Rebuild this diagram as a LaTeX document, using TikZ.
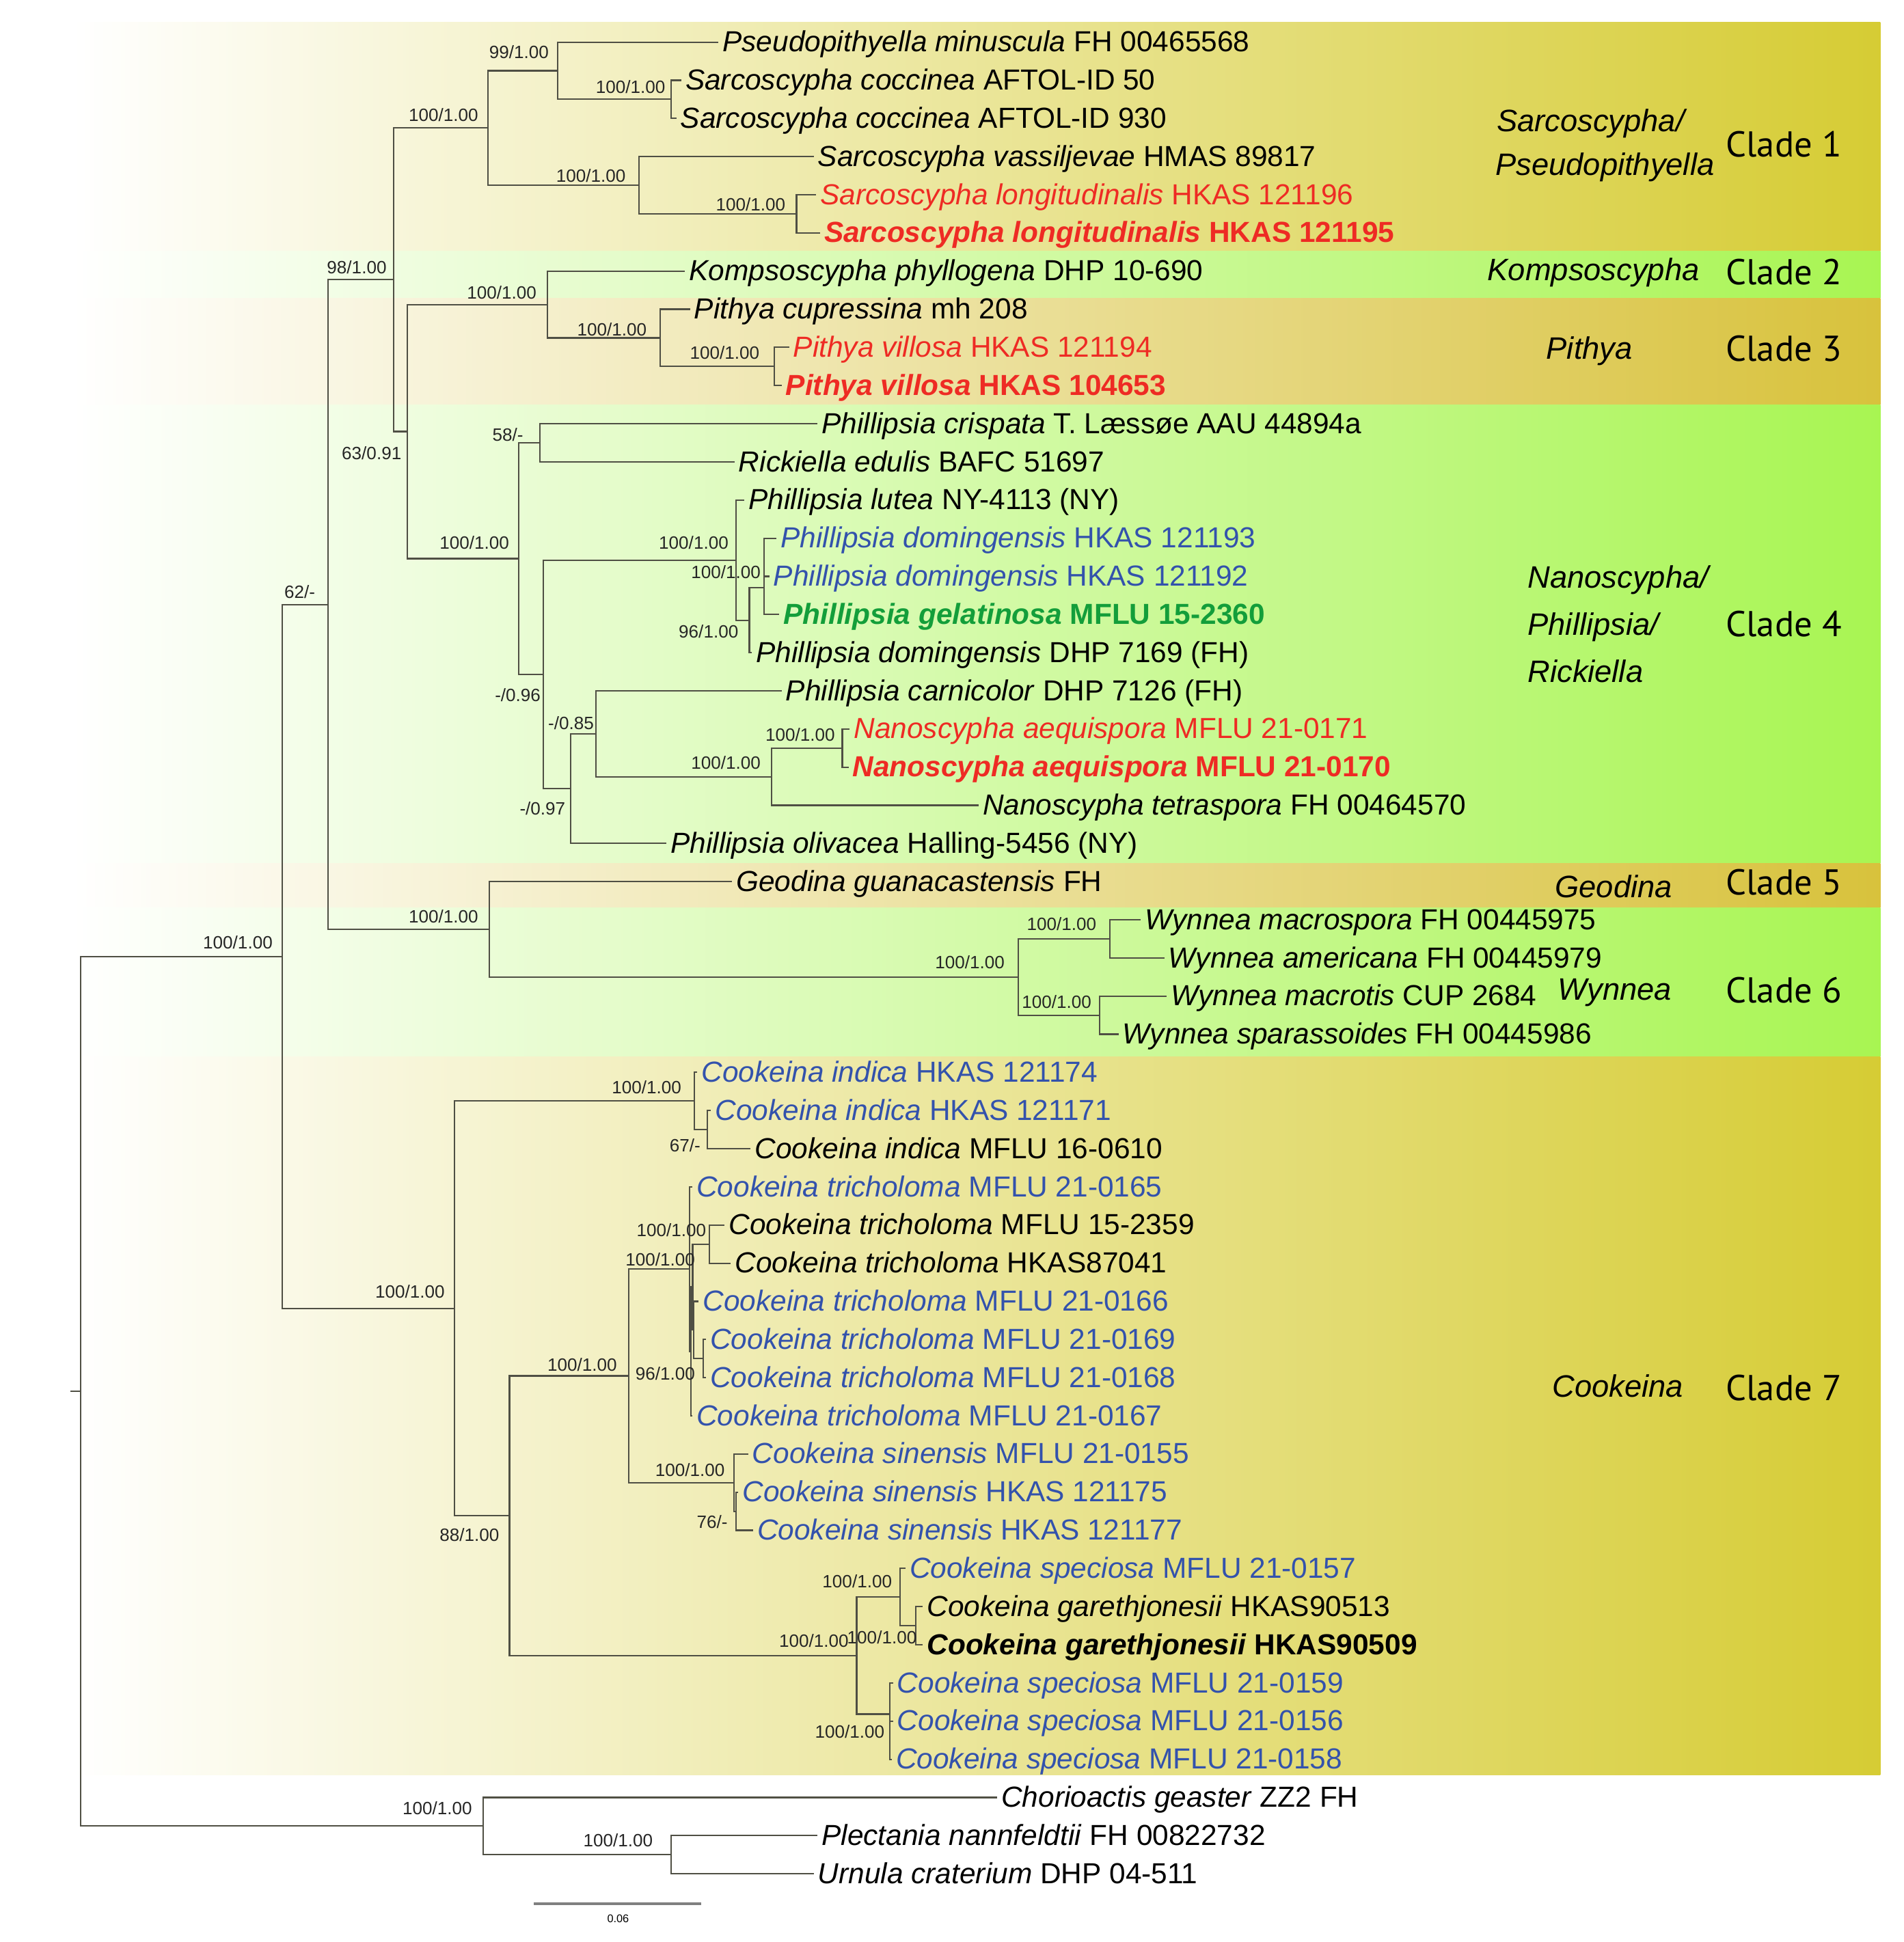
\documentclass[tikz,border=0pt]{standalone}
\usepackage{fontspec}
\setmainfont{Liberation Sans}
\newfontfamily\cladefont{PT Sans}
\usepackage{xcolor}
\usepackage{tikz}

\definecolor{olivebar}{HTML}{D6CC34}
\definecolor{tanbar}{HTML}{D8C23C}
\definecolor{greenbar}{HTML}{A8F552}
\definecolor{newred}{HTML}{EE2B24}
\definecolor{newblue}{HTML}{3352AC}
\definecolor{newgreen}{HTML}{139E3A}
\definecolor{branchgray}{HTML}{4F4F44}

\newcommand{\tipsize}{\fontsize{11.7}{14}\selectfont}

\tikzset{
  branch/.style={draw=branchgray, line width=0.6pt},
  taxon/.style={anchor=base west, inner sep=0pt, xshift=1.5pt, yshift=-3.9pt, font=\tipsize},
  taxred/.style={taxon, text=newred},
  taxredb/.style={taxon, text=newred, font=\tipsize\bfseries},
  taxblue/.style={taxon, text=newblue},
  taxgreenb/.style={taxon, text=newgreen, font=\tipsize\bfseries},
  taxblackb/.style={taxon, font=\tipsize\bfseries},
  support/.style={inner sep=0pt, font=\fontsize{7.2}{8}\selectfont, text=black!85},
  genus/.style={anchor=base west, inner sep=0pt, font=\fontsize{12.5}{15}\selectfont\itshape},
  clade/.style={anchor=base west, inner sep=0pt, font=\cladefont\fontsize{14.5}{17}\selectfont},
}

\begin{document}
\begin{tikzpicture}[x=0.5pt, y=-0.5pt]
	\useasboundingbox (0,0) rectangle (1537,1568);

	% clade bands
	\shade[left color=white, right color=olivebar] (58,18) rectangle (1518,202.5);
	\shade[left color=white, right color=greenbar] (58,202.5) rectangle (1518,241);
	\shade[left color=white, right color=tanbar] (58,241) rectangle (1518,327);
	\shade[left color=white, right color=greenbar] (58,327) rectangle (1518,697);
	\shade[left color=white, right color=tanbar] (58,697) rectangle (1518,733);
	\shade[left color=white, right color=greenbar] (58,733) rectangle (1518,853);
	\shade[left color=white, right color=olivebar] (58,853) rectangle (1518,1433);

	% tips
	\foreach \r/\x/\s/\t in {
		1/580/taxon/{\textit{Pseudopithyella minuscula} FH 00465568},
		2/550/taxon/{\textit{Sarcoscypha coccinea} AFTOL-ID 50},
		3/546/taxon/{\textit{Sarcoscypha coccinea} AFTOL-ID 930},
		4/657/taxon/{\textit{Sarcoscypha vassiljevae} HMAS 89817},
		5/659/taxred/{\textit{Sarcoscypha longitudinalis} HKAS 121196},
		6/662/taxredb/{\textit{Sarcoscypha longitudinalis} HKAS 121195},
		7/553/taxon/{\textit{Kompsoscypha phyllogena} DHP 10-690},
		8/557/taxon/{\textit{Pithya cupressina} mh 208},
		9/637/taxred/{\textit{Pithya villosa} HKAS 121194},
		10/631/taxredb/{\textit{Pithya villosa} HKAS 104653},
		11/660/taxon/{\textit{Phillipsia crispata} T. Læssøe AAU 44894a},
		12/593/taxon/{\textit{Rickiella edulis} BAFC 51697},
		13/601/taxon/{\textit{Phillipsia lutea} NY-4113 (NY)},
		14/627/taxblue/{\textit{Phillipsia domingensis} HKAS 121193},
		15/621/taxblue/{\textit{Phillipsia domingensis} HKAS 121192},
		16/629/taxgreenb/{\textit{Phillipsia gelatinosa} MFLU 15-2360},
		17/607/taxon/{\textit{Phillipsia domingensis} DHP 7169 (FH)},
		18/631/taxon/{\textit{Phillipsia carnicolor} DHP 7126 (FH)},
		19/686/taxred/{\textit{Nanoscypha aequispora} MFLU 21-0171},
		20/685/taxredb/{\textit{Nanoscypha aequispora} MFLU 21-0170},
		21/790/taxon/{\textit{Nanoscypha tetraspora} FH 00464570},
		22/538/taxon/{\textit{Phillipsia olivacea} Halling-5456 (NY)},
		23/591/taxon/{\textit{Geodina guanacastensis} FH},
		24/921/taxon/{\textit{Wynnea macrospora} FH 00445975},
		25/940/taxon/{\textit{Wynnea americana} FH 00445979},
		26/942/taxon/{\textit{Wynnea macrotis} CUP 2684},
		27/903/taxon/{\textit{Wynnea sparassoides} FH 00445986},
		28/563/taxblue/{\textit{Cookeina indica} HKAS 121174},
		29/574/taxblue/{\textit{Cookeina indica} HKAS 121171},
		30/606/taxon/{\textit{Cookeina indica} MFLU 16-0610},
		31/559/taxblue/{\textit{Cookeina tricholoma} MFLU 21-0165},
		32/585/taxon/{\textit{Cookeina tricholoma} MFLU 15-2359},
		33/590/taxon/{\textit{Cookeina tricholoma} HKAS87041},
		34/564/taxblue/{\textit{Cookeina tricholoma} MFLU 21-0166},
		35/570/taxblue/{\textit{Cookeina tricholoma} MFLU 21-0169},
		36/570/taxblue/{\textit{Cookeina tricholoma} MFLU 21-0168},
		37/559/taxblue/{\textit{Cookeina tricholoma} MFLU 21-0167},
		38/604/taxblue/{\textit{Cookeina sinensis} MFLU 21-0155},
		39/596/taxblue/{\textit{Cookeina sinensis} HKAS 121175},
		40/608/taxblue/{\textit{Cookeina sinensis} HKAS 121177},
		41/731/taxblue/{\textit{Cookeina speciosa} MFLU 21-0157},
		42/745/taxon/{\textit{Cookeina garethjonesii} HKAS90513},
		43/745/taxblackb/{\textit{Cookeina garethjonesii} HKAS90509},
		44/721/taxblue/{\textit{Cookeina speciosa} MFLU 21-0159},
		45/721/taxblue/{\textit{Cookeina speciosa} MFLU 21-0156},
		46/720/taxblue/{\textit{Cookeina speciosa} MFLU 21-0158},
		47/805/taxon/{\textit{Chorioactis geaster} ZZ2 FH},
		48/660/taxon/{\textit{Plectania nannfeldtii} FH 00822732},
		49/657/taxon/{\textit{Urnula craterium} DHP 04-511}}
	{
		\coordinate (t\r) at (\x, {34+30.81*(\r-1)});
		\node[\s] (n\r) at (t\r) {\t};
	}

	% internal nodes
	\coordinate (SC) at (542,80.2);
	\coordinate (S99) at (450,57.1);
	\coordinate (SL) at (643,172.65);
	\coordinate (SV) at (516,149.5);
	\coordinate (S1) at (394,103.3);
	\coordinate (PV) at (625,295.9);
	\coordinate (PC) at (533,272.8);
	\coordinate (KP) at (442,245.85);
	\coordinate (CR) at (436,357.5);
	\coordinate (J) at (617,474.5);
	\coordinate (I) at (605,500.75);
	\coordinate (H) at (594,452.2);
	\coordinate (N) at (680,604);
	\coordinate (M) at (623,627.1);
	\coordinate (L) at (481,592.45);
	\coordinate (G) at (460.6,636.7);
	\coordinate (F) at (438.4,544.45);
	\coordinate (E) at (418.7,451);
	\coordinate (B) at (329,348.4);
	\coordinate (A) at (318,225.85);
	\coordinate (Q) at (896,758);
	\coordinate (R) at (887.6,819.7);
	\coordinate (P) at (822,788.85);
	\coordinate (GW) at (395,750.3);
	\coordinate (C) at (265,488.1);
	\coordinate (T) at (571.2,912.1);
	\coordinate (SI) at (560.4,889);
	\coordinate (V) at (572.6,1004.5);
	\coordinate (W) at (567.8,1097);
	\coordinate (Y) at (560.2,1073.85);
	\coordinate (X) at (559.2,1039.2);
	\coordinate (Z) at (557.6,1091.2);
	\coordinate (U) at (556.8,1024.75);
	\coordinate (EE) at (594,1220.2);
	\coordinate (DD) at (592.6,1197.1);
	\coordinate (CC) at (507.4,1110.9);
	\coordinate (HH) at (739.3,1312.6);
	\coordinate (GG) at (726.8,1289.5);
	\coordinate (II) at (718.5,1384);
	\coordinate (FF) at (691.6,1336.75);
	\coordinate (BB) at (411.3,1223.8);
	\coordinate (AA) at (367,1056.4);
	\coordinate (D) at (228,772.25);
	\coordinate (PU) at (542,1497.5);
	\coordinate (OG) at (390,1474.4);
	\coordinate (root) at (65,1123.3);
	\coordinate (rstub) at (57,1123.3);

	% branches
	\foreach \p/\c in {root/D, root/OG, D/C, D/AA, C/A, C/GW, A/S1, A/B,
		S1/S99, S1/SV, S99/t1, S99/SC, SC/t2, SC/t3, SV/t4, SV/SL, SL/t5, SL/t6,
		B/KP, B/E, KP/t7, KP/PC, PC/t8, PC/PV, PV/t9, PV/t10,
		E/CR, E/F, CR/t11, CR/t12, F/H, F/G, H/t13, H/I, I/J, I/t17,
		J/t14, J/t15, J/t16, G/L, G/t22, L/t18, L/M, M/N, M/t21, N/t19, N/t20,
		GW/t23, GW/P, P/Q, P/R, Q/t24, Q/t25, R/t26, R/t27,
		AA/SI, AA/BB, SI/t28, SI/T, T/t29, T/t30, BB/CC, BB/FF, CC/U, CC/DD,
		U/t31, U/Z, Z/X, Z/t37, X/V, X/Y, V/t32, V/t33, Y/t34, Y/W, W/t35, W/t36,
		DD/t38, DD/EE, EE/t39, EE/t40, FF/GG, FF/II, GG/t41, GG/HH,
		HH/t42, HH/t43, II/t44, II/t45, II/t46, OG/t47, OG/PU, PU/t48, PU/t49}
		\draw[branch] (\p) |- (\c);
	\draw[branch] (rstub) -- (root);

	% support values
	\foreach \nm/\x/\y/\v in {
		S99/419/42/{99/1.00}, SC/509/70/{100/1.00}, S1/358/93/{100/1.00},
		SV/477/142/{100/1.00}, SL/606/165/{100/1.00}, A/288/216/{98/1.00},
		KP/405/236/{100/1.00}, PC/494/266/{100/1.00}, PV/585/285/{100/1.00},
		CR/410/351/{58/-}, B/300/366/{63/0.91}, E/383/438/{100/1.00},
		H/560/438/{100/1.00}, J/586/462/{100/1.00}, C/242/478/{62/-},
		I/572/510/{96/1.00}, F/418/561/{-/0.96}, L/461/584/{-/0.85},
		N/646/593/{100/1.00}, M/586/616/{100/1.00}, G/438/653/{-/0.97},
		GW/358/740/{100/1.00}, Q/857/746/{100/1.00}, D/192/761/{100/1.00},
		P/783/777/{100/1.00}, R/853/809/{100/1.00}, SI/522/878/{100/1.00},
		T/553/925/{67/-}, V/542/993/{100/1.00}, U/533/1017/{100/1.00},
		AA/331/1043/{100/1.00}, CC/470/1102/{100/1.00}, W/537/1109/{96/1.00},
		DD/557/1187/{100/1.00}, EE/575/1229/{76/-}, BB/379/1239/{88/1.00},
		GG/692/1277/{100/1.00}, HH/712/1322/{100/1.00}, FF/657/1325/{100/1.00},
		II/686/1398/{100/1.00}, OG/353/1460/{100/1.00}, PU/499/1486/{100/1.00}}
		\node[support] (s-\nm) at (\x,\y) {\v};

	% genus and clade names
	\node[genus] (gSar) at (1208,106) {Sarcoscypha/};
	\node[genus] (gPse) at (1207,141.5) {Pseudopithyella};
	\node[genus] (gKom) at (1200.5,226.6) {Kompsoscypha};
	\node[genus] (gPit) at (1248,290) {Pithya};
	\node[genus] (gNan) at (1233,475) {Nanoscypha/};
	\node[genus] (gPhi) at (1233,513) {Phillipsia/};
	\node[genus] (gRic) at (1233,551) {Rickiella};
	\node[genus] (gGeo) at (1255,724.5) {Geodina};
	\node[genus] (gWyn) at (1257.5,807.2) {Wynnea};
	\node[genus] (gCoo) at (1252.8,1128) {Cookeina};

	\foreach \k/\y in {1/126.8, 2/230, 3/291.4, 4/514, 5/722.7, 6/809.5, 7/1130.5}
		\node[clade] (clade\k) at (1393,\y) {Clade \k};

	% scale bar
	\coordinate (sbl) at (431,1537);
	\coordinate (sbr) at (566,1537);
	\draw[gray, line width=1.1pt] (sbl) -- (sbr);
	\node[inner sep=0pt, font=\fontsize{4.5}{5}\selectfont] (sblab) at (499,1549) {0.06};
\end{tikzpicture}
\end{document}
